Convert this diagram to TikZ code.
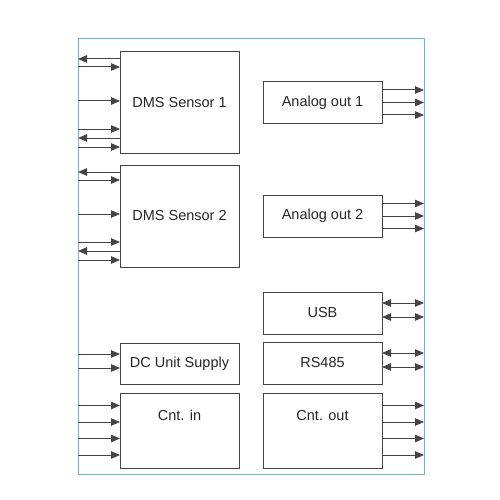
\documentclass[tikz,border=0pt]{standalone}
\usepackage{fontspec}
\setmainfont{Liberation Sans}
\usetikzlibrary{arrows.meta,calc}

\definecolor{framecol}{HTML}{6CB4D6}
\definecolor{linecol}{HTML}{454545}

\tikzset{
  block/.style={draw=linecol, line width=1pt, minimum width=119pt, inner sep=0pt, outer sep=0pt,
    font=\fontsize{14.5}{17}\selectfont, text=black!85},
  sig/.style={draw=linecol, line width=1pt, >={Triangle[length=9pt,width=7.5pt]}},
}

\begin{document}
\begin{tikzpicture}[x=1pt, y=-1pt]
    \useasboundingbox (0,0) rectangle (500,500);

    % Housing
    \node[draw=framecol, line width=1pt, minimum width=346pt, minimum height=435pt,
      inner sep=0pt, outer sep=0pt] (frame) at (251,256.5) {};

    % Blocks
    \node[block, minimum height=101pt] (dms1) at (179.5,102.5) {DMS Sensor 1};
    \node[block, minimum height=102pt] (dms2) at (179.5,216) {DMS Sensor 2};
    \node[block, minimum height=41pt] (dc) at (179.5,363.5) {DC Unit Supply};
    \node[block, minimum height=75pt, text height=10pt, text depth=31pt] (cntin) at (179.5,430.5) {Cnt. in};
    \node[block, minimum height=41pt] (aout1) at (322.5,102.5) {Analog out 1};
    \node[block, minimum height=42pt] (aout2) at (322.5,216) {Analog out 2};
    \node[block, minimum height=42pt] (usb) at (322.5,313) {USB};
    \node[block, minimum height=42pt] (rs485) at (322.5,363) {RS485};
    \node[block, minimum height=75pt, text height=10pt, text depth=31pt] (cntout) at (322.5,430.5) {Cnt. out};

    % Sensor lines
    \foreach \b in {dms1,dms2}{
      \foreach \d in {15,49,77,95}{
        \coordinate (p) at ($(\b.north west)+(0,\d)$);
        \draw[sig,->] (p -| frame.west) -- (p);
      }
      \foreach \d in {7,86}{
        \coordinate (p) at ($(\b.north west)+(0,\d)$);
        \draw[sig,<-] (p -| frame.west) -- (p);
      }
    }

    % Supply and counter inputs
    \foreach \d in {11,25}{
      \coordinate (p) at ($(dc.north west)+(0,\d)$);
      \draw[sig,->] (p -| frame.west) -- (p);
    }
    \foreach \d in {12.5,29,45.5,62}{
      \coordinate (p) at ($(cntin.north west)+(0,\d)$);
      \draw[sig,->] (p -| frame.west) -- (p);
    }

    % Analog outputs
    \foreach \b in {aout1,aout2}{
      \foreach \d in {-12.5,0,12.5}{
        \coordinate (p) at ($(\b.east)+(0,\d)$);
        \draw[sig,->] (p) -- (p -| frame.east);
      }
    }

    % Interfaces
    \foreach \b in {usb,rs485}{
      \foreach \d in {11,25}{
        \coordinate (p) at ($(\b.north east)+(0,\d)$);
        \draw[sig,<->] (p) -- (p -| frame.east);
      }
    }

    % Counter outputs
    \foreach \d in {12.5,29,45.5,62}{
      \coordinate (p) at ($(cntout.north east)+(0,\d)$);
      \draw[sig,->] (p) -- (p -| frame.east);
    }
\end{tikzpicture}
\end{document}
